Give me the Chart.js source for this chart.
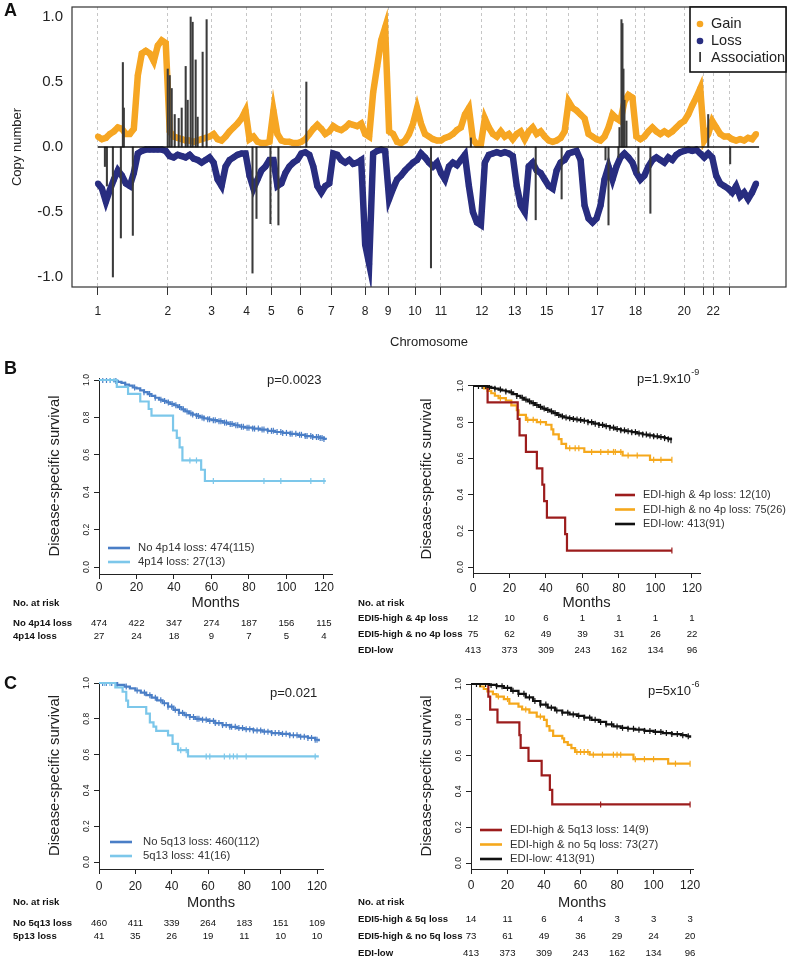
<!DOCTYPE html>
<html lang="en">
<head>
<meta charset="UTF-8">
<title>Copy number associations and survival</title>
<script src="https://cdn.jsdelivr.net/npm/chart.js@4"></script>
<style>
  body { margin: 0; background: #fff; }
  #page { position: relative; width: 790px; height: 959px; overflow: hidden; background: #fff; }
  #page canvas { position: absolute; }
  .tag { position: absolute; left: 4px; font: bold 18px "Liberation Sans", Arial, sans-serif; color: #111; }
</style>
</head>
<body>
<div id="page">
  <canvas id="cnv" width="790" height="352" style="left:0;top:0"></canvas>
  <canvas id="kmB1" width="370" height="290" style="left:0;top:360px"></canvas>
  <canvas id="kmB2" width="440" height="300" style="left:350px;top:360px"></canvas>
  <canvas id="kmC1" width="370" height="299" style="left:0;top:660px"></canvas>
  <canvas id="kmC2" width="440" height="299" style="left:350px;top:660px"></canvas>
  <div class="tag" style="top:0">A</div>
  <div class="tag" style="top:358px">B</div>
  <div class="tag" style="top:673px">C</div>
</div>
<script>
// ---------- panel A: copy number along the genome ----------
// positions are in plot units (one unit per probe block), chromosome starts below
const CHR_START = [0, 70, 114, 149, 174, 203, 234, 268, 291, 318, 344, 385, 418, 430, 450, 472, 501, 539, 548, 588, 607, 617, 633];
const CHR_LABEL = ['1', '2', '3', '4', '5', '6', '7', '8', '9', '10', '11', '12', '13', '', '15', '', '17', '18', '', '20', '', '22', ''];
const GENOME_END = 663;

const POS = [0,4,8,12,16,20,24,28,32,36,40,44,48,52,56,60,64,68,72,76,80,84,88,92,96,100,104,108,112,116,120,124,128,132,136,140,144,148,
  152,156,160,164,168,172,176,180,184,188,192,196,200,204,208,212,216,220,224,228,232,236,240,244,248,252,256,260,264,268,272,276,280,284,288,
  292,296,300,304,308,312,316,320,324,328,332,336,340,344,348,352,356,360,364,368,372,376,380,384,388,392,396,400,404,408,412,416,420,424,428,
  432,436,440,444,448,452,456,460,464,468,472,476,480,484,488,492,496,500,504,508,512,516,520,524,528,532,536,540,544,548,552,556,560,564,568,
  572,576,580,584,588,592,596,600,604,608,612,616,620,624,628,632,636,640,644,648,652,656,660];

const GAIN = [
  0.08,0.06,0.07,0.10,0.12,0.15,0.14,0.10,0.10,0.14,0.55,0.72,0.74,0.72,0.66,0.78,0.82,0.80,
  0.12,0.08,0.07,0.06,0.05,0.05,0.04,0.05,0.06,0.07,0.08,
  0.10,0.06,0.05,0.08,0.12,0.15,0.18,0.22,0.28,
  0.06,0.08,0.04,0.03,0.03,0.04,
  0.28,0.10,0.05,0.04,0.04,0.03,0.03,
  0.04,0.06,0.10,0.14,0.17,0.14,0.10,0.12,
  0.16,0.14,0.13,0.15,0.18,0.17,0.16,0.18,
  0.10,0.08,0.42,0.62,0.82,0.92,
  0.12,0.10,0.04,0.03,0.05,0.10,0.18,
  0.30,0.18,0.10,0.08,0.06,0.05,
  0.05,0.07,0.08,0.10,0.13,0.15,0.25,0.30,0.06,0.02,0.02,
  0.22,0.15,0.10,0.08,0.12,0.08,0.10,0.06,
  0.10,0.12,0.06,
  0.12,0.15,0.10,0.12,0.08,
  0.05,0.04,0.05,0.07,0.12,
  0.35,0.30,0.28,0.25,0.22,0.10,0.08,0.06,
  0.05,0.08,0.15,0.25,0.22,0.20,0.35,0.40,0.38,
  0.08,0.06,
  0.08,0.12,0.15,0.12,0.10,0.12,0.10,0.12,0.15,0.18,
  0.20,0.25,0.32,0.38,0.45,
  0.05,0.10,0.20,
  0.15,0.10,0.08,0.08,
  0.06,0.05,0.06,0.05,0.07,0.06,0.10];

const LOSS = [
  -0.28,-0.32,-0.42,-0.33,-0.25,-0.18,-0.22,-0.28,-0.30,-0.20,-0.05,-0.03,-0.02,-0.02,-0.02,-0.02,-0.02,-0.03,
  -0.07,-0.08,-0.06,-0.07,-0.08,-0.06,-0.09,-0.10,-0.12,-0.10,-0.08,
  -0.12,-0.25,-0.30,-0.15,-0.10,-0.08,-0.06,-0.05,-0.05,
  -0.22,-0.32,-0.25,-0.18,-0.15,-0.10,
  -0.10,-0.30,-0.28,-0.20,-0.15,-0.12,-0.10,
  -0.05,-0.04,-0.06,-0.15,-0.30,-0.35,-0.30,-0.28,
  -0.05,-0.06,-0.10,-0.12,-0.10,-0.13,-0.12,-0.10,
  -0.75,-0.90,-0.05,-0.03,-0.02,-0.03,
  -0.40,-0.32,-0.25,-0.22,-0.18,-0.15,-0.12,
  -0.10,-0.05,-0.08,-0.12,-0.15,-0.12,
  -0.20,-0.25,-0.15,-0.12,-0.14,-0.10,-0.06,-0.30,-0.50,-0.58,-0.60,
  -0.12,-0.06,-0.05,-0.04,-0.05,-0.04,-0.05,-0.07,
  -0.30,-0.45,-0.50,
  -0.15,-0.12,-0.18,-0.20,-0.25,
  -0.30,-0.32,-0.18,-0.12,-0.10,
  -0.05,-0.04,-0.03,-0.10,-0.45,-0.55,-0.58,-0.55,
  -0.45,-0.25,-0.15,-0.25,-0.15,-0.08,-0.05,-0.08,-0.12,
  -0.20,-0.25,
  -0.22,-0.15,-0.10,-0.08,-0.10,-0.12,-0.08,-0.10,-0.06,-0.04,
  -0.03,-0.02,-0.03,-0.02,-0.05,
  -0.08,-0.05,-0.08,
  -0.22,-0.28,-0.30,-0.32,
  -0.35,-0.30,-0.38,-0.35,-0.40,-0.35,-0.28];

const ASSOC_POS = [7, 9, 15, 23, 25, 26, 35, 70, 72, 74, 77, 81, 84, 88, 90, 93, 95, 98, 100, 105, 109,
  155, 159, 173, 181, 209, 334, 374, 439, 465, 509, 512, 522, 523, 525, 526, 527, 528, 530, 542, 554, 612, 634];
const ASSOC_VAL = [-0.15, -0.30, -1.00, -0.70, 0.65, 0.30, -0.68, 0.60, 0.55, 0.45, 0.25, 0.22, 0.30, 0.62, 0.36, 1.00, 0.96, 0.67, 0.23, 0.73, 0.98,
  -0.97, -0.55, -0.59, -0.60, 0.50, -0.93, 0.07, -0.56, -0.40, -0.10, -0.60, -0.08, 0.15, 0.98, 0.95, 0.60, 0.36, 0.20, -0.20, -0.51, 0.25, -0.13];

const CN_TICKS = [-1, -0.5, 0, 0.5, 1];

// ---------- panels B and C: Kaplan-Meier curves ----------
const MONTH_TICKS = [0, 20, 40, 60, 80, 100, 120];
const SURV_TICKS = [0, 0.2, 0.4, 0.6, 0.8, 1.0];

// B, left
const T_B1_NO = [0,5,8,10,12,14,16,18,20,22,24,26,28,30,32,34,36,38,40,42,44,46,48,50,52,54,56,58,60,63,66,69,72,75,78,82,86,90,94,98,102,106,110,114,118,120,121];
const S_B1_NO = [1,1,0.995,0.99,0.985,0.975,0.97,0.96,0.955,0.945,0.935,0.925,0.915,0.905,0.895,0.888,0.88,0.872,0.865,0.855,0.843,0.832,0.822,0.815,0.808,0.80,0.795,0.79,0.785,0.78,0.772,0.765,0.758,0.75,0.745,0.74,0.735,0.728,0.722,0.717,0.712,0.707,0.70,0.695,0.69,0.685,0.68];
const C_B1_NO = [2,4,6,9,14,19,24,27,30,33,35,37,39,41,43,45,47,49,50,52,53,55,56,58,59,61,62,64,65,67,68,70,71,73,74,76,77,79,80,82,83,85,87,88,90,92,93,95,97,98,100,102,103,105,107,108,110,111,113,114,116,117,118,119,120];
const T_B1_4P = [0,9.5,15.5,22,26.5,28,39.5,41.5,43,44.5,54.5,56.5,121];
const S_B1_4P = [1,0.963,0.926,0.885,0.845,0.81,0.73,0.69,0.64,0.57,0.52,0.46,0.46];
const C_B1_4P = [6,8,48.5,52,61,88,97,113,120];
const RISK_B1_LABELS = ['No 4p14 loss', '4p14 loss'];
const RISK_B1 = [[474,422,347,274,187,156,115],[27,24,18,9,7,5,4]];

// B, right
const T_B2_LOW = [0,6,8,10,12,14,16,18,20,22,24,26,28,30,32,34,36,38,40,42,44,46,48,50,52,54,56,58,60,63,66,69,72,75,78,81,84,87,90,93,96,99,102,105,107,108.5];
const S_B2_LOW = [1,1,0.995,0.99,0.985,0.98,0.975,0.97,0.965,0.955,0.945,0.935,0.925,0.915,0.905,0.895,0.885,0.875,0.868,0.86,0.85,0.84,0.832,0.826,0.822,0.818,0.815,0.812,0.808,0.80,0.792,0.785,0.778,0.77,0.762,0.755,0.75,0.745,0.738,0.732,0.727,0.722,0.718,0.712,0.706,0.70];
const C_B2_LOW = [3,5,7,9,12,15,18,21,24,27,29,31,33,35,37,39,41,43,45,47,49,51,53,55,57,59,61,63,65,67,69,71,73,75,77,79,81,83,85,87,89,91,93,95,97,99,101,103,105,107,108.5];
const T_B2_NO = [0,6,8,10,12,14,18,21,24,25,29,35,40,43,44,47,48.5,51,61,82,97,109];
const S_B2_NO = [1,0.987,0.973,0.96,0.946,0.933,0.92,0.893,0.866,0.84,0.813,0.80,0.786,0.76,0.733,0.706,0.68,0.656,0.636,0.616,0.592,0.592];
const C_B2_NO = [15,30,33,37,53,56,58,65,70,74,77,78,81,85,90,99,103,109];
const T_B2_4P = [0,8,24.5,25.5,29,35,38,39,40.5,50.5,51.5,109];
const S_B2_4P = [1,0.909,0.818,0.727,0.636,0.545,0.455,0.364,0.273,0.182,0.091,0.091];
const C_B2_4P = [109];
const RISK_B2_LABELS = ['EDI5-high & 4p loss', 'EDI5-high & no 4p loss', 'EDI-low'];
const RISK_B2 = [[12,10,6,1,1,1,1],[75,62,49,39,31,26,22],[413,373,309,243,162,134,96]];

// C, left
const T_C1_NO = [0,6,10,14,17,20,23,26,29,32,35,38,41,44,47,50,53,56,60,64,68,72,76,80,85,90,95,100,105,110,115,119,121];
const S_C1_NO = [1,1,0.99,0.98,0.97,0.958,0.946,0.932,0.918,0.903,0.887,0.868,0.85,0.833,0.82,0.81,0.80,0.795,0.788,0.776,0.765,0.755,0.748,0.742,0.735,0.728,0.72,0.716,0.708,0.70,0.693,0.683,0.675];
const C_C1_NO = [2,4,7,10,15,21,25,28,31,34,36,38,40,42,44,46,48,50,52,54,55,57,59,61,63,64,66,68,70,72,73,75,77,79,81,83,85,87,89,91,93,95,97,99,101,103,105,107,109,111,113,115,117,119,120];
const T_C1_5Q = [0,9,13,15,16,26,28,30,31.5,38,40.5,43.5,49,121];
const S_C1_5Q = [1,0.976,0.951,0.902,0.866,0.829,0.78,0.756,0.732,0.707,0.66,0.625,0.59,0.59];
const C_C1_5Q = [3,6,45,48,59,61,69,72,74,76,81,119];
const RISK_C1_LABELS = ['No 5q13 loss', '5p13 loss'];
const RISK_C1 = [[460,411,339,264,183,151,109],[41,35,26,19,11,10,10]];

// C, right
const T_C2_LOW = [0,6,10,14,18,22,26,30,34,38,42,46,50,54,58,62,66,70,74,78,82,86,90,95,100,105,110,115,118,120];
const S_C2_LOW = [1,1,0.995,0.988,0.978,0.962,0.945,0.925,0.905,0.885,0.868,0.852,0.84,0.83,0.822,0.812,0.80,0.788,0.775,0.763,0.755,0.75,0.745,0.738,0.732,0.726,0.72,0.714,0.708,0.70];
const C_C2_LOW = [3,5,8,11,14,17,20,23,26,29,32,35,38,41,44,47,50,53,56,59,62,65,68,71,74,77,80,83,86,89,92,95,98,101,104,107,110,113,116,119];
const T_C2_NO = [0,5,7,9,12,14,18,21,26,28,32,36,40,41.5,43,45,50,51,53,55,57,65,89,108,120];
const S_C2_NO = [1,0.986,0.972,0.958,0.944,0.93,0.916,0.89,0.874,0.858,0.84,0.818,0.8,0.765,0.74,0.71,0.696,0.675,0.66,0.642,0.62,0.605,0.58,0.555,0.555];
const C_C2_NO = [15,20,30,38,58,60,62,64,67,72,78,80,82,90,95,100,112,120];
const T_C2_5Q = [0,9.5,10.5,14.5,26.5,27.2,31.5,38.7,43.2,44.5,120];
const S_C2_5Q = [1,0.929,0.857,0.786,0.714,0.643,0.571,0.49,0.408,0.327,0.327];
const C_C2_5Q = [71,120];
const RISK_C2_LABELS = ['EDI5-high & 5q loss', 'EDI5-high & no 5q loss', 'EDI-low'];
const RISK_C2 = [[14,11,6,4,3,3,3],[73,61,49,36,29,24,20],[413,373,309,243,162,134,96]];

// ---------- styles ----------
const FONT = '"Liberation Sans", Arial, Helvetica, sans-serif';
const INK = '#222';
const GAIN_COL = '#f6a623';
const LOSS_COL = '#282d80';
const DBLUE = '#4a7ec6';
const LBLUE = '#7cc7ea';
const DRED = '#9c1c1c';
const KORANGE = '#f5a81c';
const KBLACK = '#111';

Chart.defaults.font.family = FONT;
Chart.defaults.color = INK;

const boxPlugin = {
  id: 'box',
  afterDraw(chart) {
    const { ctx, chartArea: a } = chart;
    ctx.save();
    ctx.strokeStyle = '#333';
    ctx.lineWidth = 1.2;
    ctx.strokeRect(a.left, a.top, a.right - a.left, a.bottom - a.top);
    // legend box, top right corner of the plot
    const x0 = a.right - 96, y0 = a.top, x1 = a.right, y1 = a.top + 65;
    ctx.fillStyle = '#fff';
    ctx.fillRect(x0, y0, x1 - x0, y1 - y0);
    ctx.lineWidth = 1.6;
    ctx.strokeStyle = '#111';
    ctx.strokeRect(x0, y0, x1 - x0, y1 - y0);
    ctx.font = '14.5px ' + FONT;
    ctx.textBaseline = 'middle';
    ctx.textAlign = 'left';
    [['Gain', GAIN_COL], ['Loss', LOSS_COL]].forEach(([t, c], i) => {
      const yy = y0 + 17 + i * 17;
      ctx.fillStyle = c;
      ctx.beginPath(); ctx.arc(x0 + 10, yy, 3.3, 0, Math.PI * 2); ctx.fill();
      ctx.fillStyle = INK;
      ctx.fillText(t, x0 + 21, yy);
    });
    ctx.fillStyle = '#222';
    ctx.fillRect(x0 + 9.3, y0 + 45, 1.6, 10);
    ctx.fillText('Association', x0 + 21, y0 + 51);
    ctx.restore();
  }
};

new Chart(document.getElementById('cnv'), {
  type: 'line',
  data: {
    datasets: [
      { label: 'baseline', data: [{ x: 0, y: 0 }, { x: GENOME_END, y: 0 }], borderColor: '#111', borderWidth: 1.6, pointRadius: 0, order: 0 },
      { type: 'bar', label: 'Association', data: ASSOC_POS.map((p, i) => ({ x: p, y: ASSOC_VAL[i] })),
        backgroundColor: '#3b3b3b', barThickness: 1.4, grouped: false, order: 1 },
      { label: 'Gain', data: POS.map((p, i) => ({ x: p, y: GAIN[i] })), borderColor: GAIN_COL, backgroundColor: GAIN_COL,
        borderWidth: 6.5, pointRadius: 3, pointBorderWidth: 0, order: 2 },
      { label: 'Loss', data: POS.map((p, i) => ({ x: p, y: LOSS[i] })), borderColor: LOSS_COL, backgroundColor: LOSS_COL,
        borderWidth: 6.5, pointRadius: 3, pointBorderWidth: 0, order: 2 }
    ]
  },
  options: {
    responsive: false, animation: false, events: [],
    layout: { padding: { top: 7, right: 2, left: 0, bottom: 0 } },
    plugins: { legend: { display: false }, tooltip: { enabled: false } },
    scales: {
      x: {
        type: 'linear', min: -26, max: 690, offset: false,
        afterBuildTicks: s => { s.ticks = CHR_START.map(v => ({ value: v })); },
        afterFit: s => { s.height = 65; s.paddingLeft = 0; s.paddingRight = 0; },
        ticks: { autoSkip: false, maxRotation: 0, minRotation: 0, color: INK, font: { size: 12 }, padding: 9,
                 callback: (v, i) => CHR_LABEL[i] },
        grid: { offset: false, color: '#c6c6c6', lineWidth: 1, tickLength: 8, tickColor: '#333', tickWidth: 1 },
        border: { display: false, dash: [3, 3] },
        title: { display: true, text: 'Chromosome', color: INK, font: { size: 13 }, padding: { top: 0, bottom: 2.2 } }
      },
      y: {
        min: -1.077, max: 1.077,
        afterBuildTicks: s => { s.ticks = CN_TICKS.map(v => ({ value: v })); },
        afterFit: s => { s.width = 72; s.paddingTop = 0; s.paddingBottom = 0; },
        ticks: { color: INK, font: { size: 15 }, padding: 9, callback: v => v.toFixed(1) },
        grid: { display: false, drawTicks: false },
        border: { display: false },
        title: { display: true, text: 'Copy number', color: INK, font: { size: 13 }, padding: { top: 9.2, bottom: 0 } }
      }
    }
  },
  plugins: [boxPlugin]
});

// ---------- Kaplan-Meier helper ----------
function survAt(times, surv, t) {
  let s = surv[0];
  for (let i = 0; i < times.length; i++) if (times[i] <= t) s = surv[i];
  return s;
}

function kmDecor(cfg) {
  return {
    id: 'kmDecor',
    afterDraw(chart) {
      const { ctx, chartArea: a, scales: { x, y } } = chart;
      ctx.save();
      ctx.fillStyle = INK;
      // vertical tick labels on the survival axis
      ctx.font = '8.5px ' + FONT;
      ctx.textAlign = 'center';
      ctx.textBaseline = 'middle';
      SURV_TICKS.forEach(v => {
        ctx.save();
        ctx.translate(a.left - 12, y.getPixelForValue(v));
        ctx.rotate(-Math.PI / 2);
        ctx.fillText(v.toFixed(1), 0, 0);
        ctx.restore();
      });
      // p value
      ctx.textAlign = 'left';
      ctx.font = '13px ' + FONT;
      ctx.fillText(cfg.p, cfg.pX, cfg.pY);
      if (cfg.pSup) {
        const w = ctx.measureText(cfg.p).width;
        ctx.font = '9px ' + FONT;
        ctx.fillText(cfg.pSup, cfg.pX + w + 0.5, cfg.pY - 6);
      }
      // legend
      ctx.font = cfg.legFont + 'px ' + FONT;
      cfg.legend.forEach((L, i) => {
        const ly = cfg.legY + i * cfg.legStep;
        ctx.strokeStyle = L.color;
        ctx.lineWidth = 2.6;
        ctx.beginPath(); ctx.moveTo(cfg.legX1, ly); ctx.lineTo(cfg.legX2, ly); ctx.stroke();
        ctx.fillStyle = '#333';
        ctx.fillText(L.text, cfg.legText, ly);
      });
      // number at risk table
      ctx.fillStyle = '#111';
      ctx.font = 'bold 9.6px ' + FONT;
      ctx.fillText('No. at risk', cfg.tabX, cfg.tabHead);
      cfg.riskLabels.forEach((lab, r) => {
        const ry = cfg.tabRows[r];
        ctx.font = 'bold 9.6px ' + FONT;
        ctx.textAlign = 'left';
        ctx.fillText(lab, cfg.tabX, ry);
        ctx.font = '9.6px ' + FONT;
        ctx.textAlign = 'center';
        cfg.risk[r].forEach((n, k) => ctx.fillText(String(n), x.getPixelForValue(MONTH_TICKS[k]), ry));
      });
      ctx.restore();
    }
  };
}

function kmChart(id, g, curves, cfg) {
  const datasets = [];
  curves.forEach(c => {
    datasets.push({ label: c.name, data: c.t.map((t, i) => ({ x: t, y: c.s[i] })), stepped: true,
      borderColor: c.color, borderWidth: 2.2, pointRadius: 0, fill: false });
    datasets.push({ label: c.name + ' (censored)', data: c.cens.map(t => ({ x: t, y: survAt(c.t, c.s, t) })),
      showLine: false, pointStyle: 'line', rotation: 90, pointRadius: 3, pointBorderWidth: 1.2,
      pointBorderColor: c.color, borderColor: c.color });
  });
  new Chart(document.getElementById(id), {
    type: 'line',
    data: { datasets },
    options: {
      responsive: false, animation: false, events: [],
      layout: { padding: { top: g.top, right: g.right, left: 0, bottom: 0 } },
      plugins: { legend: { display: false }, tooltip: { enabled: false } },
      scales: {
        x: {
          type: 'linear', min: 0, max: g.xMax,
          afterBuildTicks: s => { s.ticks = MONTH_TICKS.map(v => ({ value: v })); },
          afterFit: s => { s.height = g.xH; },
          ticks: { autoSkip: false, maxRotation: 0, color: INK, font: { size: 12 }, padding: g.xPad },
          grid: { drawOnChartArea: false, tickLength: 5, tickColor: '#222' },
          border: { display: true, color: '#222', width: 1 },
          title: { display: true, text: 'Months', color: INK, font: { size: 14.7 }, padding: { top: 0, bottom: g.monthsPad } }
        },
        y: {
          min: g.yMin, max: g.yMax,
          afterBuildTicks: s => { s.ticks = SURV_TICKS.map(v => ({ value: v })); },
          afterFit: s => { s.width = g.left; s.paddingTop = 0; s.paddingBottom = 0; },
          ticks: { display: false },
          grid: { drawOnChartArea: false, tickLength: 5, tickColor: '#222' },
          border: { display: true, color: '#222', width: 1 },
          title: { display: true, text: 'Disease-specific survival', color: INK, font: { size: 14.7 }, padding: { top: g.titlePad, bottom: 0 } }
        }
      }
    },
    plugins: [kmDecor(cfg)]
  });
}

kmChart('kmB1',
  { top: 18, right: 38, left: 99, xH: 76, xMax: 124.3, yMin: -0.0374, yMax: 1.0107, xPad: 1, monthsPad: 38.2, titlePad: 46.2 },
  [ { name: '4p14 loss', t: T_B1_4P, s: S_B1_4P, cens: C_B1_4P, color: LBLUE },
    { name: 'No 4p14 loss', t: T_B1_NO, s: S_B1_NO, cens: C_B1_NO, color: DBLUE } ],
  { p: 'p=0.0023', pX: 267, pY: 20,
    legend: [ { text: 'No 4p14 loss: 474(115)', color: DBLUE }, { text: '4p14 loss: 27(13)', color: LBLUE } ],
    legFont: 11.3, legX1: 108, legX2: 130, legText: 138, legY: 188, legStep: 14,
    tabX: 13, tabHead: 243, tabRows: [263, 276], riskLabels: RISK_B1_LABELS, risk: RISK_B1 });

kmChart('kmB2',
  { top: 25, right: 90, left: 123, xH: 87, xMax: 124.4, yMin: -0.0331, yMax: 1.0055, xPad: 3, monthsPad: 48.2, titlePad: 68.2 },
  [ { name: 'EDI-low', t: T_B2_LOW, s: S_B2_LOW, cens: C_B2_LOW, color: KBLACK },
    { name: 'EDI-high & 4p loss', t: T_B2_4P, s: S_B2_4P, cens: C_B2_4P, color: DRED },
    { name: 'EDI-high & no 4p loss', t: T_B2_NO, s: S_B2_NO, cens: C_B2_NO, color: KORANGE } ],
  { p: 'p=1.9x10', pSup: '-9', pX: 287, pY: 19,
    legend: [ { text: 'EDI-high & 4p loss: 12(10)', color: DRED }, { text: 'EDI-high & no 4p loss: 75(26)', color: KORANGE },
              { text: 'EDI-low: 413(91)', color: KBLACK } ],
    legFont: 10.9, legX1: 265, legX2: 285, legText: 293, legY: 135, legStep: 14.5,
    tabX: 8, tabHead: 243, tabRows: [258, 274, 290], riskLabels: RISK_B2_LABELS, risk: RISK_B2 });

kmChart('kmC1',
  { top: 22, right: 47, left: 99, xH: 90, xMax: 123.3, yMin: -0.0391, yMax: 1.0056, xPad: 5, monthsPad: 47.2, titlePad: 46.2 },
  [ { name: '5q13 loss', t: T_C1_5Q, s: S_C1_5Q, cens: C_C1_5Q, color: LBLUE },
    { name: 'No 5q13 loss', t: T_C1_NO, s: S_C1_NO, cens: C_C1_NO, color: DBLUE } ],
  { p: 'p=0.021', pX: 270, pY: 33,
    legend: [ { text: 'No 5q13 loss: 460(112)', color: DBLUE }, { text: '5q13 loss: 41(16)', color: LBLUE } ],
    legFont: 11.3, legX1: 110, legX2: 132, legText: 143, legY: 182, legStep: 14,
    tabX: 13, tabHead: 242, tabRows: [263, 276], riskLabels: RISK_C1_LABELS, risk: RISK_C1 });

kmChart('kmC2',
  { top: 23, right: 97, left: 121, xH: 90, xMax: 121.6, yMin: -0.0335, yMax: 1.0056, xPad: 4, monthsPad: 47.2, titlePad: 68.2 },
  [ { name: 'EDI-low', t: T_C2_LOW, s: S_C2_LOW, cens: C_C2_LOW, color: KBLACK },
    { name: 'EDI-high & 5q13 loss', t: T_C2_5Q, s: S_C2_5Q, cens: C_C2_5Q, color: DRED },
    { name: 'EDI-high & no 5q loss', t: T_C2_NO, s: S_C2_NO, cens: C_C2_NO, color: KORANGE } ],
  { p: 'p=5x10', pSup: '-6', pX: 298, pY: 31,
    legend: [ { text: 'EDI-high & 5q13 loss: 14(9)', color: DRED }, { text: 'EDI-high & no 5q loss: 73(27)', color: KORANGE },
              { text: 'EDI-low: 413(91)', color: KBLACK } ],
    legFont: 11.3, legX1: 130, legX2: 152, legText: 160, legY: 170, legStep: 14.5,
    tabX: 8, tabHead: 242, tabRows: [259, 276, 293], riskLabels: RISK_C2_LABELS, risk: RISK_C2 });
</script>
</body>
</html>
